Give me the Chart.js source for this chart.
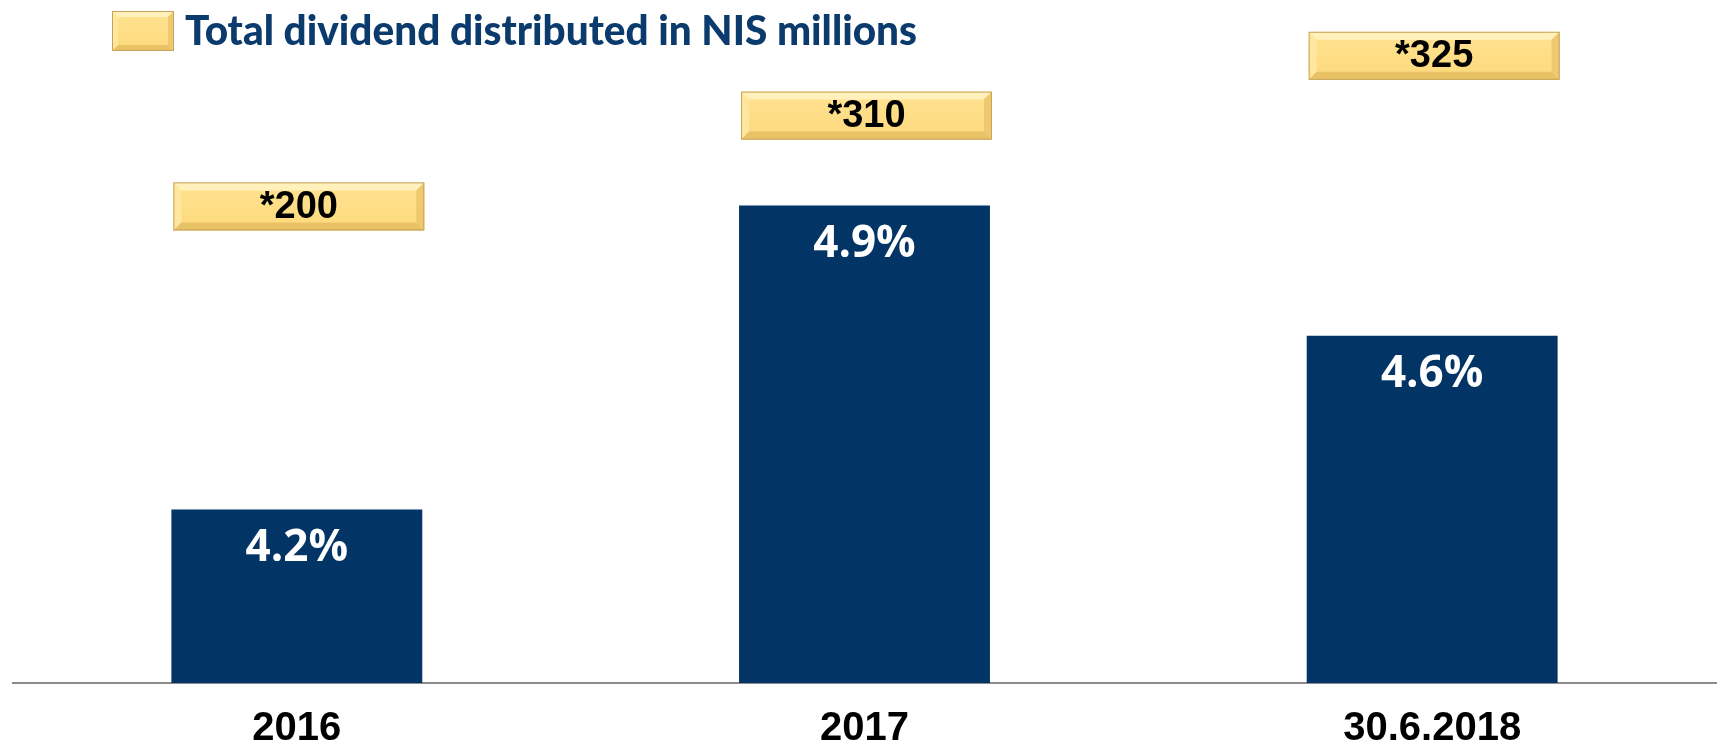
<!DOCTYPE html>
<html>
<head>
<meta charset="utf-8">
<script src="https://cdn.jsdelivr.net/npm/chart.js@4/dist/chart.umd.min.js"></script>
<style>
  html, body { margin: 0; padding: 0; background: #ffffff; }
  #wrap { width: 1725px; height: 747px; position: relative; }
</style>
</head>
<body>
<div id="wrap"><canvas id="chart"></canvas></div>
<script>
// Dividend yield per period and total dividend distributed (NIS millions)
const categories = ['2016', '2017', '30.6.2018'];
const yieldPct = [4.2, 4.9, 4.6];
const dividendNIS = [200, 310, 325];
const dividendLabel = 'Total dividend distributed in NIS millions';

const NAVY = '#023566';

// Beveled gold box used for the legend key and the dividend callouts
function bevelBox(ctx, x, y, w, h, b) {
  ctx.save();
  const face = ctx.createLinearGradient(0, y, 0, y + h);
  face.addColorStop(0, '#FFE291');
  face.addColorStop(1, '#FDD97C');
  ctx.fillStyle = face;
  ctx.fillRect(x, y, w, h);
  const poly = (pts, col) => {
    ctx.beginPath();
    ctx.moveTo(pts[0][0], pts[0][1]);
    for (let i = 1; i < pts.length; i++) ctx.lineTo(pts[i][0], pts[i][1]);
    ctx.closePath();
    ctx.fillStyle = col;
    ctx.fill();
  };
  poly([[x, y], [x + w, y], [x + w - b, y + b], [x + b, y + b]], '#FFF0BC');
  poly([[x, y], [x + b, y + b], [x + b, y + h - b], [x, y + h]], '#FFE7A0');
  poly([[x + w, y], [x + w - b, y + b], [x + w - b, y + h - b], [x + w, y + h]], '#EFC870');
  poly([[x, y + h], [x + w, y + h], [x + w - b, y + h - b], [x + b, y + h - b]], '#E9C266');
  ctx.strokeStyle = '#C4A45C';
  ctx.lineWidth = 1;
  ctx.strokeRect(x + 0.5, y + 0.5, w - 1, h - 1);
  ctx.restore();
}

// Percent labels inside the top of each bar
const barLabels = {
  id: 'barLabels',
  afterDatasetsDraw(chart) {
    const ctx = chart.ctx;
    const meta = chart.getDatasetMeta(0);
    ctx.save();
    ctx.font = 'bold 44px "Open Sans", sans-serif';
    ctx.fillStyle = '#ffffff';
    ctx.textAlign = 'center';
    ctx.textBaseline = 'middle';
    meta.data.forEach((bar, i) => {
      ctx.fillText(yieldPct[i].toFixed(1) + '%', bar.x, bar.y + 39);
    });
    ctx.restore();
  }
};

// Dividend callouts above the bars
const dividendCallouts = {
  id: 'dividendCallouts',
  afterDatasetsDraw(chart, args, opts) {
    const ctx = chart.ctx;
    const meta = chart.getDatasetMeta(0);
    meta.data.forEach((bar, i) => {
      const w = bar.width;
      const h = opts.boxHeight;
      const x = bar.x - w / 2 + 2;
      const y = bar.y - opts.gapAboveBar[i] - h;
      bevelBox(ctx, x, y, w, h, 8);
      ctx.save();
      ctx.font = 'bold 38px "Liberation Sans", Arial, sans-serif';
      ctx.fillStyle = '#000000';
      ctx.textAlign = 'center';
      ctx.textBaseline = 'middle';
      ctx.fillText('*' + dividendNIS[i], x + w / 2, y + h / 2 + 1);
      ctx.restore();
    });
  }
};

// Legend key with title text
const dividendLegend = {
  id: 'dividendLegend',
  afterDraw(chart, args, opts) {
    const ctx = chart.ctx;
    bevelBox(ctx, opts.x, opts.y, opts.w, opts.h, 6);
    ctx.save();
    ctx.font = '900 41px Lato, "Open Sans", sans-serif';
    ctx.fillStyle = '#0B3A6C';
    ctx.textBaseline = 'middle';
    const tw = ctx.measureText(dividendLabel).width;
    const sx = opts.textWidth / tw;
    ctx.translate(opts.textX, opts.y + opts.h / 2 + 1);
    ctx.scale(sx, 1);
    ctx.fillText(dividendLabel, 0, 0);
    ctx.restore();
  }
};

new Chart(document.getElementById('chart'), {
  type: 'bar',
  data: {
    labels: categories,
    datasets: [{
      label: 'Dividend yield',
      data: yieldPct,
      backgroundColor: NAVY,
      borderWidth: 0,
      categoryPercentage: 1.0,
      barPercentage: 0.442
    }]
  },
  options: {
    responsive: true,
    maintainAspectRatio: false,
    animation: false,
    layout: { padding: { left: 13, right: 9, top: 32, bottom: -28 } },
    plugins: {
      legend: { display: false },
      tooltip: { enabled: false },
      dividendCallouts: { boxHeight: 48, gapAboveBar: [279, 66, 256] },
      dividendLegend: { x: 112, y: 11, w: 62, h: 40, textX: 185, textWidth: 732 }
    },
    scales: {
      x: {
        grid: { display: false, drawTicks: false },
        border: { display: true, color: '#8C8C8C', width: 2 },
        ticks: {
          color: '#000000',
          padding: 26,
          font: { family: '"Liberation Sans", Arial, sans-serif', weight: 'bold', size: 40, lineHeight: 1.0 }
        }
      },
      y: {
        display: false,
        min: 3.8,
        max: 5.3
      }
    }
  },
  plugins: [barLabels, dividendCallouts, dividendLegend]
});
</script>
</body>
</html>
